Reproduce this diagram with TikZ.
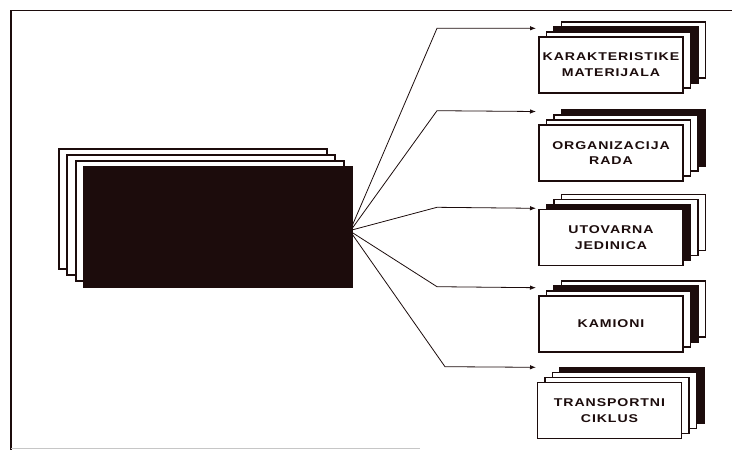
\documentclass[tikz,border=0pt]{standalone}
\usepackage{fontspec}
\newfontfamily\lblfont[FakeStretch=1.25,LetterSpace=8]{Liberation Sans}
\usetikzlibrary{arrows.meta,calc}
\definecolor{ink}{RGB}{28,12,12}
\newcommand\cardstack[5]{%
  \foreach \k in {3,2,1}{%
    \ifnum\k=#4\relax
      \node[darkcard,stackcard] (#1-\k) at (#2+7.5*\k,#3-5*\k) {};
    \else
      \node[card,stackcard] (#1-\k) at (#2+7.5*\k,#3-5*\k) {};
    \fi
  }
  \node[card,stackcard,lbl] (#1) at (#2,#3) {#5};
}
\begin{document}
\begin{tikzpicture}[x=1pt,y=-1pt,
  card/.style={draw=ink,line width=1.6pt,fill=white,inner sep=0pt},
  darkcard/.style={draw=ink,line width=1.6pt,fill=ink,inner sep=0pt},
  stackcard/.style={minimum width=144pt,minimum height=56pt},
  bigcard/.style={minimum width=268pt,minimum height=120pt,anchor=north west},
  lbl/.style={font=\lblfont\bfseries\fontsize{11.3}{15.6}\selectfont,align=center,text=ink},
  conn/.style={draw=ink,line width=0.8pt,-{Latex[length=6pt,width=4.5pt]}}]
\useasboundingbox (0,0) rectangle (732,450);
% frame
\draw[ink,line width=1.8pt] (732,10.5) -- (11,10.5) -- (11,450);
\draw[gray!45,line width=1pt] (11,448.5) -- (420,448.5);
% left stack
\node[card,bigcard] (l1) at (58,148) {};
\node[card,bigcard] (l2) at (66,154) {};
\node[card,bigcard] (l3) at (75,160) {};
\node[darkcard,bigcard] (src) at (83,166) {};
% right stacks
\cardstack{k1}{611}{64.7}{2}{KARAKTERISTIKE\\MATERIJALA}
\cardstack{k2}{611}{153}{3}{ORGANIZACIJA\\RADA}
\cardstack{k3}{611}{237.5}{1}{UTOVARNA\\JEDINICA}
\cardstack{k4}{611}{323.7}{2}{KAMIONI}
\cardstack{k5}{609.5}{410.4}{3}{TRANSPORTNI\\CIKLUS}
% bends and ends
\coordinate (b1) at (437,28.3);  \coordinate (e1) at (536,28.3);
\coordinate (b2) at (437,110.7); \coordinate (e2) at (536,111.5);
\coordinate (b3) at (437,207.3); \coordinate (e3) at (536,208.3);
\coordinate (b4) at (437,286.7); \coordinate (e4) at (536,287.7);
\coordinate (b5) at (445,366.7); \coordinate (e5) at (536,367.3);
\draw[conn] ($(src.east)+(0,-2)$) -- (b1) -- (e1);
\draw[conn] ($(src.east)+(0,1)$) -- (b2) -- (e2);
\draw[conn] ($(src.east)+(0,3)$) -- (b3) -- (e3);
\draw[conn] ($(src.east)+(0,6)$) -- (b4) -- (e4);
\draw[conn] ($(src.east)+(0,8)$) -- (b5) -- (e5);
\end{tikzpicture}
\end{document}
